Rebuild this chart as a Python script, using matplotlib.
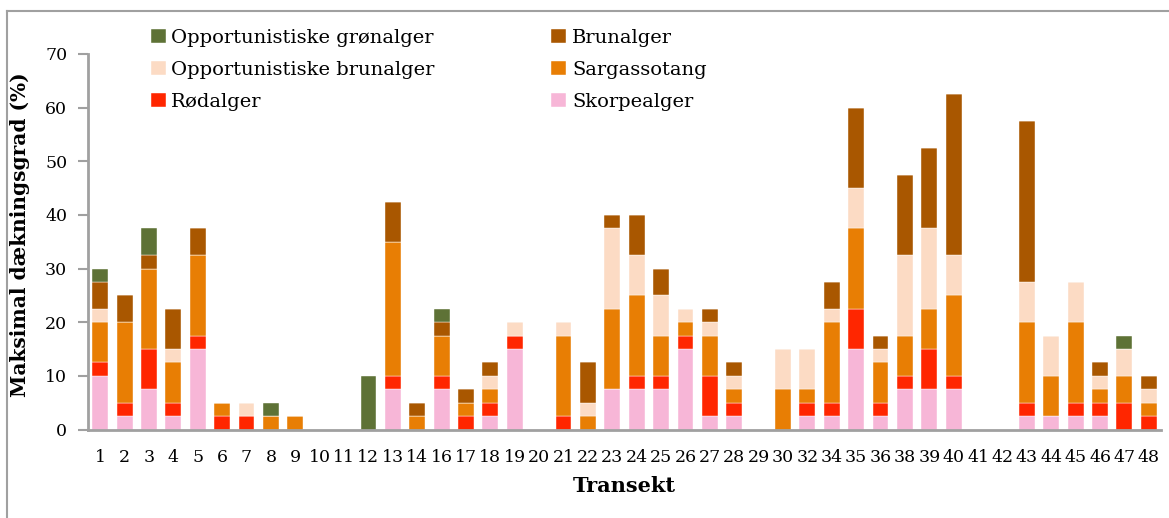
import matplotlib.pyplot as plt
import numpy as np
from matplotlib.lines import Line2D

transekter = [1, 2, 3, 4, 5, 6, 7, 8, 9, 10, 11, 12, 13, 14,
              16, 17, 18, 19, 20, 21, 22, 23, 24, 25, 26, 27, 28, 29, 30,
              32, 34, 35, 36, 38, 39, 40, 41, 42, 43, 44, 45, 46, 47, 48]

# maksimal daekningsgrad (%) pr. transekt
skorpealger = [10, 2.5, 7.5, 2.5, 15, 0, 0, 0, 0, 0, 0, 0, 7.5, 0,
               7.5, 0, 2.5, 15, 0, 0, 0, 7.5, 7.5, 7.5, 15, 2.5, 2.5, 0, 0,
               2.5, 2.5, 15, 2.5, 7.5, 7.5, 7.5, 0, 0, 2.5, 2.5, 2.5, 2.5, 0, 0]
roedalger = [2.5, 2.5, 7.5, 2.5, 2.5, 2.5, 2.5, 0, 0, 0, 0, 0, 2.5, 0,
             2.5, 2.5, 2.5, 2.5, 0, 2.5, 0, 0, 2.5, 2.5, 2.5, 7.5, 2.5, 0, 0,
             2.5, 2.5, 7.5, 2.5, 2.5, 7.5, 2.5, 0, 0, 2.5, 0, 2.5, 2.5, 5, 2.5]
sargassotang = [7.5, 15, 15, 7.5, 15, 2.5, 0, 2.5, 2.5, 0, 0, 0, 25, 2.5,
                7.5, 2.5, 2.5, 0, 0, 15, 2.5, 15, 15, 7.5, 2.5, 7.5, 2.5, 0, 7.5,
                2.5, 15, 15, 7.5, 7.5, 7.5, 15, 0, 0, 15, 7.5, 15, 2.5, 5, 2.5]
opp_brunalger = [2.5, 0, 0, 2.5, 0, 0, 2.5, 0, 0, 0, 0, 0, 0, 0,
                 0, 0, 2.5, 2.5, 0, 2.5, 2.5, 15, 7.5, 7.5, 2.5, 2.5, 2.5, 0, 7.5,
                 7.5, 2.5, 7.5, 2.5, 15, 15, 7.5, 0, 0, 7.5, 7.5, 7.5, 2.5, 5, 2.5]
brunalger = [5, 5, 2.5, 7.5, 5, 0, 0, 0, 0, 0, 0, 0, 7.5, 2.5,
             2.5, 2.5, 2.5, 0, 0, 0, 7.5, 2.5, 7.5, 5, 0, 2.5, 2.5, 0, 0,
             0, 5, 15, 2.5, 15, 15, 30, 0, 0, 30, 0, 0, 2.5, 0, 2.5]
opp_groenalger = [2.5, 0, 5, 0, 0, 0, 0, 2.5, 0, 0, 0, 10, 0, 0,
                  2.5, 0, 0, 0, 0, 0, 0, 0, 0, 0, 0, 0, 0, 0, 0,
                  0, 0, 0, 0, 0, 0, 0, 0, 0, 0, 0, 0, 0, 2.5, 0]

serier = [
    ("Skorpealger", skorpealger, "#F7B6D7"),
    ("Rødalger", roedalger, "#FF2600"),
    ("Sargassotang", sargassotang, "#E87E04"),
    ("Opportunistiske brunalger", opp_brunalger, "#FCDBC4"),
    ("Brunalger", brunalger, "#A95700"),
    ("Opportunistiske grønalger", opp_groenalger, "#5E7236"),
]

plt.rcParams['font.family'] = ['DejaVu Serif']

fig = plt.figure(figsize=(11.69, 5.18), dpi=100)
ax = fig.add_axes([88 / 1169, 88.5 / 518, (1161 - 88) / 1169, (429.5 - 54) / 518])

x = np.arange(len(transekter))
bund = np.zeros(len(transekter))
handles = {}
for navn, vaerdier, farve in serier:
    v = np.array(vaerdier, dtype=float)
    b = ax.bar(x, v, 0.65, bottom=bund, color=farve, edgecolor='white', linewidth=0.3, label=navn)
    handles[navn] = b
    bund += v

ax.set_xlim(-0.5, len(transekter) - 0.5)
ax.set_ylim(0, 70)
ax.set_yticks(range(0, 71, 10))
ax.set_xticks(x)
ax.set_xticklabels([str(t) for t in transekter])
ax.tick_params(axis='x', length=0, pad=14, labelsize=12.5)
ax.tick_params(axis='y', length=7, width=1.5, color='#A0A0A0', labelsize=12.5, pad=8)

for s in ['top', 'right']:
    ax.spines[s].set_visible(False)
for s in ['left', 'bottom']:
    ax.spines[s].set_color('#A0A0A0')
    ax.spines[s].set_linewidth(2)

ax.set_ylabel("Maksimal dækningsgrad (%)", fontsize=14.5, fontweight='bold')
ax.yaxis.set_label_coords(-0.054, 0.52)
ax.set_xlabel("Transekt", fontsize=15, fontweight='bold')
ax.xaxis.set_label_coords(0.5, -0.125)

raekkefolge = ["Opportunistiske grønalger", "Opportunistiske brunalger", "Rødalger",
               "Brunalger", "Sargassotang", "Skorpealger"]
fig.legend([handles[n] for n in raekkefolge], raekkefolge, loc='upper left',
           bbox_to_anchor=(151 / 1169, 1 - 29 / 518), ncol=2, frameon=False,
           fontsize=14, handlelength=0.75, handleheight=0.75, handletextpad=0.3,
           labelspacing=0.72, columnspacing=6.0, borderpad=0, borderaxespad=0)

# ramme om figuren
fig.add_artist(Line2D([7 / 1169, 1], [1 - 10.5 / 518, 1 - 10.5 / 518], color='#A0A0A0', lw=1.5))
fig.add_artist(Line2D([7 / 1169, 7 / 1169], [0, 1 - 10.5 / 518], color='#A0A0A0', lw=1.5))

fig.savefig("out.png", dpi=100)
